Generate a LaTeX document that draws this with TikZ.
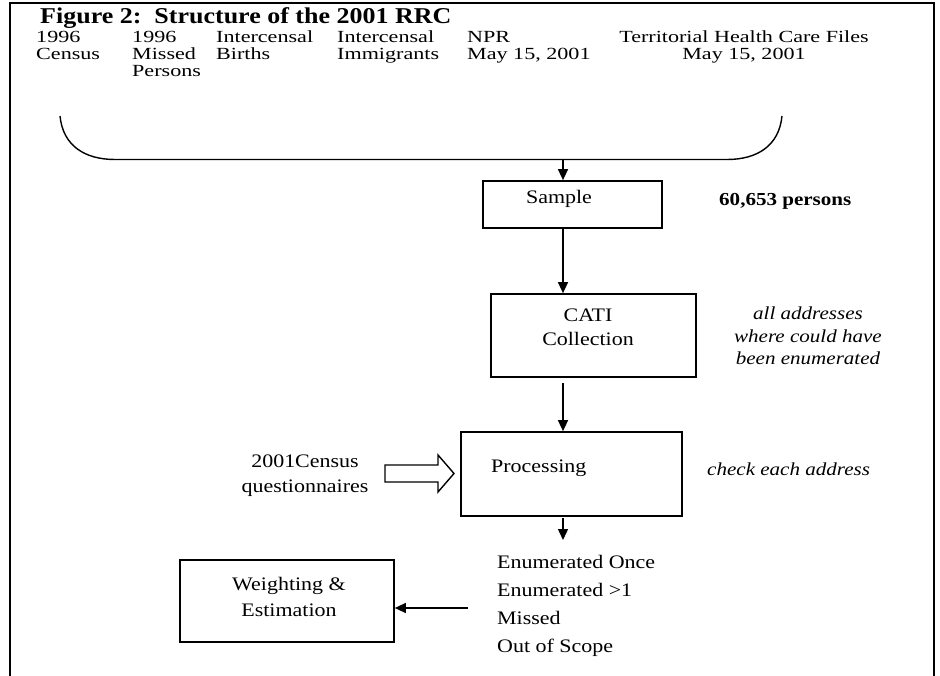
\documentclass[tikz,border=0pt]{standalone}
\usepackage{fontspec}
\setmainfont{Liberation Serif}[FakeStretch=1.15]
\newfontfamily\lblfont{Liberation Serif}[FakeStretch=1.3]
\usetikzlibrary{arrows.meta}
\newcommand\lstack[1]{\vtop{\halign{##\hfil\cr#1\crcr}}}
\newcommand\cstack[1]{\vtop{\halign{\hfil##\hfil\cr#1\crcr}}}
\lineskiplimit=-1000pt
\begin{document}
\begin{tikzpicture}[x=1pt,y=-1pt,
  box/.style={draw, line width=1.7pt, inner sep=0pt},
  arr/.style={line width=1.4pt, -{Triangle[length=11pt,width=10pt]}},
  lbl/.style={inner sep=0pt, font=\fontsize{19.1}{#1}\selectfont},
  lbl/.default=26,
  src/.style={inner sep=0pt, font=\lblfont\fontsize{17}{16.8}\selectfont},
  ital/.style={inner sep=0pt, font=\itshape\fontsize{18.3}{#1}\selectfont},
  ital/.default=22.5]
\useasboundingbox (0,0) rectangle (940,676);
\draw[line width=2pt] (10,676) -- (10,3) -- (934,3) -- (934,676);
\node[anchor=base west, inner sep=0pt, font=\bfseries\fontsize{22.6}{28}\selectfont] (title) at (40,24) {Figure 2:\ \ Structure of the 2001 RRC};
% sources
\node[src, anchor=base west] (s1) at (36,43) {\lstack{1996\cr Census}};
\node[src, anchor=base west] (s2) at (132,43) {\lstack{1996\cr Missed\cr Persons}};
\node[src, anchor=base west] (s3) at (216,43) {\lstack{Intercensal\cr Births}};
\node[src, anchor=base west] (s4) at (337,43) {\lstack{Intercensal\cr Immigrants}};
\node[src, anchor=base west] (s5) at (467,43) {\lstack{NPR\cr May 15, 2001}};
\node[src, anchor=base] (s6) at (744,43) {\cstack{Territorial Health Care Files\cr May 15, 2001}};
% brace
\draw[line width=1.4pt] (60,116) .. controls (63,146) and (85,159.5) .. (115,159.5) -- (727,159.5) .. controls (757,159.5) and (779,146) .. (782,116);
\coordinate (bb) at (563,159.5);
% sample
\node[box, minimum width=179pt, minimum height=47pt] (sample) at (572.5,204.5) {};
\node[lbl, anchor=base] (sampletxt) at (559,204) {Sample};
\draw[arr] (bb) -- (bb |- sample.north);
\node[anchor=base west, inner sep=0pt, font=\bfseries\fontsize{18.3}{25}\selectfont] (count) at (719,206) {60,653 persons};
% CATI
\node[box, minimum width=205pt, minimum height=83pt] (cati) at (593.5,335.5) {};
\node[lbl=24, anchor=base] (catitxt) at (588,322) {\cstack{CATI\cr Collection}};
\draw[arr] (sample.south -| bb) -- (cati.north -| bb);
\node[ital, anchor=base] (note1) at (808,320) {\cstack{all addresses\cr where could have\cr been enumerated}};
% processing
\coordinate (catiout) at (563,383);
\node[box, minimum width=221pt, minimum height=84pt] (proc) at (571.5,474) {};
\node[lbl, anchor=base west] (proctxt) at (491,472) {Processing};
\draw[arr] (catiout) -- (catiout |- proc.north);
\node[ital, anchor=base west] (note2) at (707,475) {check each address};
\node[lbl=25, anchor=base] (quest) at (305,467) {\cstack{2001Census\cr questionnaires}};
\draw[line width=1.4pt, fill=white] (385,465) -- (438,465) -- (438,455) -- (454,473.5) -- (438,492) -- (438,482) -- (385,482) -- cycle;
% outcomes
\coordinate (procout) at (563,518);
\coordinate (listin) at (563,540);
\draw[arr] (procout) -- (listin);
\node[lbl=28, anchor=base west] (outcomes) at (497,568) {\lstack{Enumerated Once\cr Enumerated >1\cr Missed\cr Out of Scope}};
% weighting
\node[box, minimum width=214pt, minimum height=82pt] (weight) at (287,601) {};
\node[lbl=26, anchor=base] (weighttxt) at (289,590) {\cstack{Weighting \&\cr Estimation}};
\coordinate (listout) at (468,608);
\draw[arr] (listout) -- (listout -| weight.east);
\end{tikzpicture}
\end{document}
